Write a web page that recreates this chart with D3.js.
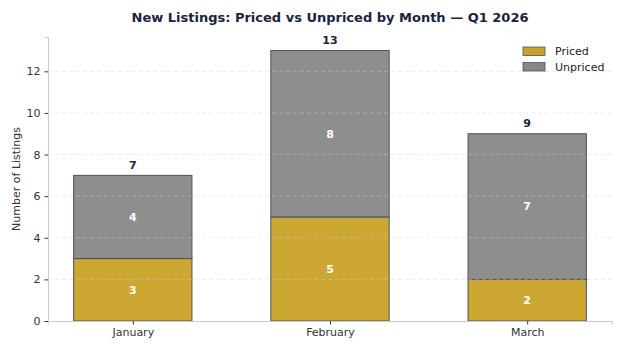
<!DOCTYPE html>
<html><head><meta charset="utf-8">
<script src="https://cdn.jsdelivr.net/npm/d3@7"></script>
<style>body{margin:0;background:#fff;font-family:"DejaVu Sans",sans-serif;}</style>
</head><body><svg id="c" width="624" height="351"></svg>
<script>
const months = ["January","February","March"];
const priced = [3,5,2];
const unpriced = [4,8,7];
const yTicks = [0,2,4,6,8,10,12];
const seriesNames = ["Priced","Unpriced"];
const colors = ["#C9A227","#888888"];

const svg = d3.select("#c");
const m = {l:48, r:612, t:37, b:321};
const totals = months.map((d,i)=>priced[i]+unpriced[i]);
const y = d3.scaleLinear().domain([0, d3.max(totals)*1.05]).range([m.b, m.t]);
const x = d3.scaleLinear().domain([-0.43, 2.43]).range([m.l, m.r]);
const bw = x(0.6)-x(0);

const stacks = d3.stack().keys([0,1]).value((d,k)=>k===0?priced[d]:unpriced[d])(months.map((d,i)=>i));
stacks.forEach((s,k)=>{
  svg.append("g").selectAll("rect").data(s).join("rect")
    .attr("x",(d,i)=>x(i)-bw/2).attr("width",bw)
    .attr("y",d=>y(d[1])).attr("height",d=>y(d[0])-y(d[1]))
    .attr("fill",colors[k]).attr("fill-opacity",0.95)
    .attr("stroke","#4a5068").attr("stroke-width",1);
});
// grid (drawn over bars, faint)
svg.append("g").selectAll("line").data(yTicks.filter(d=>d>0)).join("line")
  .attr("x1",m.l).attr("x2",m.r).attr("y1",d=>y(d)).attr("y2",d=>y(d))
  .attr("stroke","#d0d0d0").attr("stroke-opacity",0.55).attr("stroke-width",0.8).attr("stroke-dasharray","4,3");
stacks.forEach((s,k)=>{
  svg.append("g").selectAll("text").data(s).join("text")
    .attr("x",(d,i)=>x(i)).attr("y",d=>(y(d[0])+y(d[1]))/2)
    .attr("dy","0.35em").attr("text-anchor","middle")
    .attr("fill","#fff").attr("font-weight","bold").attr("font-size",11)
    .text((d,i)=>k===0?priced[i]:unpriced[i]);
});
// totals
svg.append("g").selectAll("text").data(totals).join("text")
  .attr("x",(d,i)=>x(i)).attr("y",d=>y(d)-6.5)
  .attr("text-anchor","middle").attr("fill","#1a2340")
  .attr("font-weight","bold").attr("font-size",11).text(d=>d);

// axes
const ya = svg.append("g").attr("transform",`translate(${m.l},0)`)
  .call(d3.axisLeft(y).tickValues(yTicks).tickSize(3.5).tickPadding(4));
const xa = svg.append("g").attr("transform",`translate(0,${m.b})`)
  .call(d3.axisBottom(x).tickValues([0,1,2]).tickFormat(i=>months[i]).tickSize(3.5).tickPadding(4));
[ya,xa].forEach(a=>{
  a.select(".domain").attr("stroke","#cccccc").attr("stroke-width",1);
  a.selectAll(".tick line").attr("stroke","#333");
  a.selectAll(".tick text").attr("fill","#333").attr("font-size",11).attr("font-family","DejaVu Sans");
});
svg.append("text").attr("transform",`translate(16,${(m.t+m.b)/2}) rotate(-90)`)
  .attr("text-anchor","middle").attr("fill","#333").attr("font-size",11).attr("dy","0.35em")
  .text("Number of Listings");

svg.append("text").attr("x",(m.l+m.r)/2).attr("y",22).attr("text-anchor","middle")
  .attr("fill","#1a2340").attr("font-weight","bold").attr("font-size",13)
  .text("New Listings: Priced vs Unpriced by Month — Q1 2026");

// legend
const lg = svg.append("g").attr("transform","translate(523,47)");
seriesNames.forEach((n,k)=>{
  lg.append("rect").attr("x",0).attr("y",k*15.5).attr("width",22).attr("height",8.5)
    .attr("fill",colors[k]).attr("stroke","#4a5068").attr("stroke-width",0.8);
  lg.append("text").attr("x",32).attr("y",k*15.5+4.5).attr("dy","0.35em")
    .attr("font-size",11).attr("fill","#222").text(n);
});
</script></body></html>
